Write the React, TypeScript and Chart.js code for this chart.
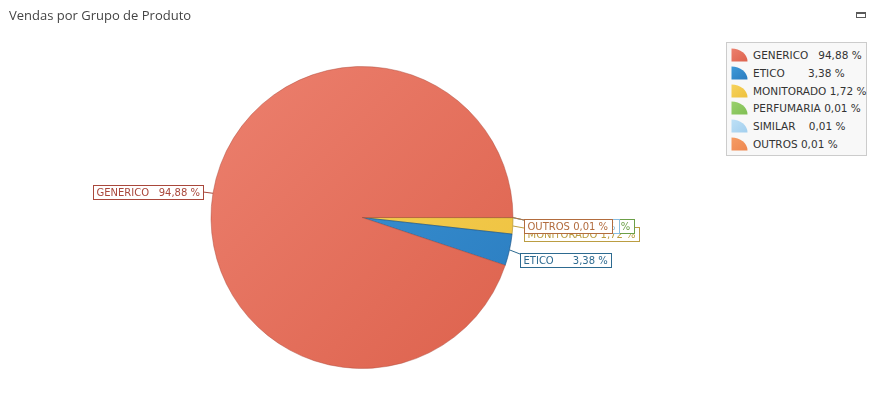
import React, { useEffect, useRef } from 'react';
import { Chart, registerables } from 'chart.js';

Chart.register(...registerables);

const chartTitle = 'Vendas por Grupo de Produto';
const categories = ['GENERICO', 'ETICO', 'MONITORADO', 'PERFUMARIA', 'SIMILAR', 'OUTROS'];
const values = [94.88, 3.38, 1.72, 0.01, 0.01, 0.01];
const pointLabels = [
  'GENERICO   94,88 %',
  'ETICO      3,38 %',
  'MONITORADO 1,72 %',
  'PERFUMARIA 0,01 %',
  'SIMILAR    0,01 %',
  'OUTROS 0,01 %',
];
const legendLabels = [
  'GENERICO   94,88 %',
  'ETICO       3,38 %',
  'MONITORADO 1,72 %',
  'PERFUMARIA 0,01 %',
  'SIMILAR    0,01 %',
  'OUTROS 0,01 %',
];
const fillLight = ['#ec806e', '#3f9bd9', '#f6d25c', '#9ad16d', '#bde0f6', '#f59c64'];
const fillDark = ['#dd624d', '#2a7bbf', '#eec13d', '#80bf54', '#a3cfee', '#ee8750'];
const edgeColors = ['rgba(170,70,55,0.45)', 'rgba(25,80,130,0.6)', 'rgba(170,140,40,0.6)', 'rgba(90,140,60,0.6)', 'rgba(120,170,210,0.6)', 'rgba(190,110,60,0.6)'];
const labelColors = ['#a9473b', '#2d6a90', '#bb9d42', '#6c9f48', '#88bde0', '#b26c3e'];

const LABEL_FONT = '10px "DejaVu Sans"';

const labelPlugin = {
  id: 'pieLabels',
  afterDraw(chart: any) {
    const ctx = chart.ctx;
    const meta = chart.getDatasetMeta(0);
    const n = categories.length;
    ctx.save();
    ctx.font = LABEL_FONT;
    for (let i = 0; i < n; i++) {
      const arc = meta.data[n - 1 - i];
      if (!arc) continue;
      const { x, y, startAngle, endAngle, outerRadius } = arc.getProps(['x', 'y', 'startAngle', 'endAngle', 'outerRadius'], true);
      const mid = (startAngle + endAngle) / 2;
      const c = Math.cos(mid);
      const s = Math.sin(mid);
      const ex = x + outerRadius * c;
      const ey = y + outerRadius * s;
      const ax = x + (outerRadius + 10) * c;
      const ay = y + (outerRadius + 10) * s;
      const text = pointLabels[i];
      const tw = ctx.measureText(text).width;
      const bw = Math.round(tw + 7);
      const bh = 14;
      let left: number;
      let top: number;
      if (c >= 0) {
        left = Math.round(ax) + 1;
        top = Math.round(ay) + 1;
      } else {
        left = Math.round(ax) - bw;
        top = Math.round(ay - bh / 2);
      }
      const col = labelColors[i];
      ctx.strokeStyle = col;
      ctx.lineWidth = 1;
      ctx.beginPath();
      ctx.moveTo(ex, ey);
      ctx.lineTo(c >= 0 ? left : left + bw, c >= 0 ? top + 1 : top + bh / 2);
      ctx.stroke();
      ctx.fillStyle = '#ffffff';
      ctx.fillRect(left, top, bw, bh);
      ctx.strokeRect(left + 0.5, top + 0.5, bw, bh);
      ctx.fillStyle = col;
      ctx.textBaseline = 'middle';
      ctx.textAlign = 'left';
      ctx.fillText(text, left + 3.5, top + bh / 2 + 1);
    }
    ctx.restore();
  },
};

export default function App() {
  const canvasRef = useRef<HTMLCanvasElement | null>(null);

  useEffect(() => {
    if (!canvasRef.current) return;
    const rev = <T,>(a: T[]) => a.slice().reverse();
    const lightR = rev(fillLight);
    const darkR = rev(fillDark);
    const chart = new Chart(canvasRef.current, {
      type: 'pie',
      data: {
        labels: rev(categories),
        datasets: [
          {
            data: rev(values),
            backgroundColor: (context: any) => {
              const ch = context.chart;
              const area = ch.chartArea;
              const idx = context.dataIndex ?? 0;
              if (!area) return lightR[idx];
              const g = ch.ctx.createLinearGradient(area.left, area.top, area.right, area.bottom);
              g.addColorStop(0, lightR[idx]);
              g.addColorStop(1, darkR[idx]);
              return g;
            },
            borderColor: rev(edgeColors),
            borderWidth: 1,
          },
        ],
      },
      options: {
        responsive: false,
        animation: false,
        rotation: 90,
        layout: { padding: { left: 210.5, top: 66, right: 364.5, bottom: 36 } },
        plugins: {
          legend: { display: false },
          title: { display: false },
          tooltip: { enabled: false },
        },
      },
      plugins: [labelPlugin],
    });
    return () => chart.destroy();
  }, []);

  return (
    <div style={{ position: 'absolute', left: 0, top: 0, width: 878, height: 405, background: '#ffffff', overflow: 'hidden' }}>
      <canvas ref={canvasRef} width={878} height={405} style={{ position: 'absolute', left: 0, top: 0, width: 878, height: 405 }} />
      <div
        style={{
          position: 'absolute',
          left: 9,
          top: 6,
          fontFamily: '"Open Sans", sans-serif',
          fontSize: 13,
          color: '#444444',
          whiteSpace: 'nowrap',
        }}
      >
        {chartTitle}
      </div>
      <div
        style={{
          position: 'absolute',
          left: 856,
          top: 12,
          width: 8,
          height: 3,
          border: '1px solid #5a5a5a',
          borderTopWidth: 2,
        }}
      />
      <div
        style={{
          position: 'absolute',
          left: 726,
          top: 42,
          width: 141,
          height: 114,
          background: '#f8f8f8',
          border: '1px solid #cccccc',
          boxSizing: 'border-box',
        }}
      >
        {categories.map((cat, i) => (
          <div
            key={cat}
            style={{ position: 'absolute', left: 4, top: 5 + i * 17.8, height: 14, display: 'flex', alignItems: 'center' }}
          >
            <svg width={17} height={14} style={{ display: 'block' }}>
              <defs>
                <linearGradient id={'lg' + i} x1="0" y1="0" x2="1" y2="1">
                  <stop offset="0" stopColor={fillLight[i]} />
                  <stop offset="1" stopColor={fillDark[i]} />
                </linearGradient>
              </defs>
              <path d="M0.5,13.5 L0.5,0.5 A16,13 0 0 1 16.5,13.5 Z" fill={'url(#lg' + i + ')'} />
            </svg>
            <span
              style={{
                marginLeft: 5,
                fontFamily: '"DejaVu Sans", sans-serif',
                fontSize: 10.5,
                color: '#333333',
                whiteSpace: 'pre',
                lineHeight: '14px',
              }}
            >
              {legendLabels[i]}
            </span>
          </div>
        ))}
      </div>
    </div>
  );
}
